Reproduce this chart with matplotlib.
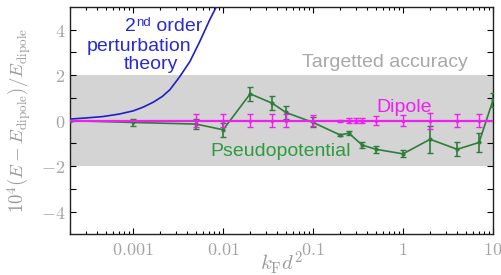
import numpy as np
import matplotlib
matplotlib.use("Agg")
import matplotlib.pyplot as plt
from matplotlib.ticker import FixedLocator, FuncFormatter, LogLocator, NullFormatter

plt.rcParams['mathtext.fontset'] = 'cm'

# ---- data ----
# 2nd order perturbation theory curve
pt_x = [2e-4, 3e-4, 4.6e-4, 7e-4, 1e-3, 1.3e-3, 1.67e-3, 2.1e-3, 2.56e-3,
        3.3e-3, 4.27e-3, 5.5e-3, 7.1e-3, 8.46e-3, 1.0e-2]
pt_y = [0.07, 0.12, 0.18, 0.29, 0.43, 0.6, 0.81, 1.06, 1.36,
        1.94, 2.6, 3.48, 4.44, 5.03, 5.8]

# pseudopotential results
pp_x   = [2e-4, 0.001, 0.005, 0.01, 0.02, 0.035, 0.05, 0.1, 0.2, 0.25,
          0.35, 0.5, 1.0, 2.0, 4.0, 7.0, 10.0]
pp_y   = [0.0, -0.08, -0.15, -0.4, 1.18, 0.77, 0.36, -0.08, -0.63, -0.55,
          -1.07, -1.26, -1.46, -0.82, -1.26, -0.96, 0.9]
pp_err = [0.0, 0.15, 0.22, 0.3, 0.3, 0.3, 0.3, 0.22, 0.06, 0.1,
          0.15, 0.15, 0.15, 0.6, 0.3, 0.4, 0.3]

# dipole reference
dp_x   = [0.005, 0.01, 0.02, 0.035, 0.05, 0.1, 0.2, 0.25, 0.3, 0.35,
          0.5, 1.0, 2.0, 4.0, 7.0]
dp_y   = [0.0] * len(dp_x)
dp_err = [0.3, 0.3, 0.3, 0.3, 0.3, 0.25, 0.04, 0.12, 0.12, 0.12,
          0.2, 0.25, 0.35, 0.3, 0.3]

band_lo, band_hi = -2, 2

xticks = [0.001, 0.01, 0.1, 1, 10]
xticklabels = ['0.001', '0.01', '0.1', '1', '10']
yticks = [-4, -2, 0, 2, 4]

# ---- colours ----
c_blue  = '#1f1fc8'
c_btext = '#2a2ad2'
c_green = '#2e7d3a'
c_gtext = '#2f9a3e'
c_mag   = '#f01ef0'
c_gray  = '#9a9a9a'

fig = plt.figure(figsize=(5.01, 2.75), dpi=100)
ax = fig.add_axes([0.1403, 0.148, 0.8437, 0.8265])

ax.axhspan(band_lo, band_hi, color='#d4d4d4', lw=0, zorder=0)

ax.plot(pt_x, pt_y, color=c_blue, lw=1.2, zorder=3)

ax.errorbar(pp_x, pp_y, yerr=pp_err, color=c_green, lw=1.2, marker='.',
            ms=4, capsize=2, elinewidth=1.2, capthick=1, zorder=4)

ax.axhline(0, color=c_mag, lw=1.6, zorder=5)
ax.errorbar(dp_x, dp_y, yerr=dp_err, fmt='.', color=c_mag, ms=3,
            capsize=2, elinewidth=1.0, capthick=1, zorder=5)

ax.set_xscale('log')
ax.set_xlim(2e-4, 10)
ax.set_ylim(-5, 5)

ax.xaxis.set_major_locator(FixedLocator(xticks))
ax.xaxis.set_major_formatter(FuncFormatter(
    lambda v, p: r'$%s$' % xticklabels[xticks.index(v)] if v in xticks else ''))
ax.xaxis.set_minor_locator(LogLocator(base=10, subs=np.arange(2, 10)))
ax.xaxis.set_minor_formatter(NullFormatter())

ax.yaxis.set_major_locator(FixedLocator(yticks))
ax.yaxis.set_major_formatter(FuncFormatter(lambda v, p: r'$%d$' % v))
ax.yaxis.set_minor_locator(FixedLocator([-3, -1, 1, 3]))

ax.tick_params(which='both', direction='in', top=True, right=True,
               labelcolor='#a4a4a4', labelsize=13, width=0.8)
ax.tick_params(which='major', length=4)
ax.tick_params(which='minor', length=2.5)
ax.tick_params(axis='y', which='minor', length=4)
ax.tick_params(axis='x', pad=5)
for s in ax.spines.values():
    s.set_linewidth(1.0)
    s.set_color('#222222')

ax.set_xlabel(r'$k_{\rm F}d^2$', fontsize=15, color=c_gray, labelpad=-7)
ax.set_ylabel(r'$10^4(E-E_{\rm dipole})/E_{\rm dipole}$', fontsize=13.5,
              color=c_gray, labelpad=6)

sans = ['Liberation Sans', 'DejaVu Sans']
fs = 14
t2 = ax.text(8.1e-4, 4.13, '2', color=c_btext, fontsize=fs,
             family=sans, ha='left', va='center')
tnd = ax.annotate('nd', xy=(1.0, 1.05), xycoords=t2, color=c_btext,
                  fontsize=9.5, family=sans, ha='left', va='top')
ax.annotate(' order', xy=(1.0, 0.0), xycoords=(tnd, t2), color=c_btext,
            fontsize=fs, family=sans, ha='left', va='bottom')
ax.text(1.16e-3, 3.25, 'perturbation', color=c_btext, fontsize=fs,
        family=sans, ha='center', va='center')
ax.text(1.57e-3, 2.46, 'theory', color=c_btext, fontsize=fs,
        family=sans, ha='center', va='center')
ax.text(0.63, 2.55, 'Targetted accuracy', color='#a8a8a8', fontsize=fs,
        family=sans, ha='center', va='center')
ax.text(1.04, 0.6, 'Dipole', color=c_mag, fontsize=fs,
        family=sans, ha='center', va='center')
ax.text(0.0438, -1.37, 'Pseudopotential', color=c_gtext, fontsize=fs,
        family=sans, ha='center', va='center')

fig.savefig('out.png', dpi=100)
